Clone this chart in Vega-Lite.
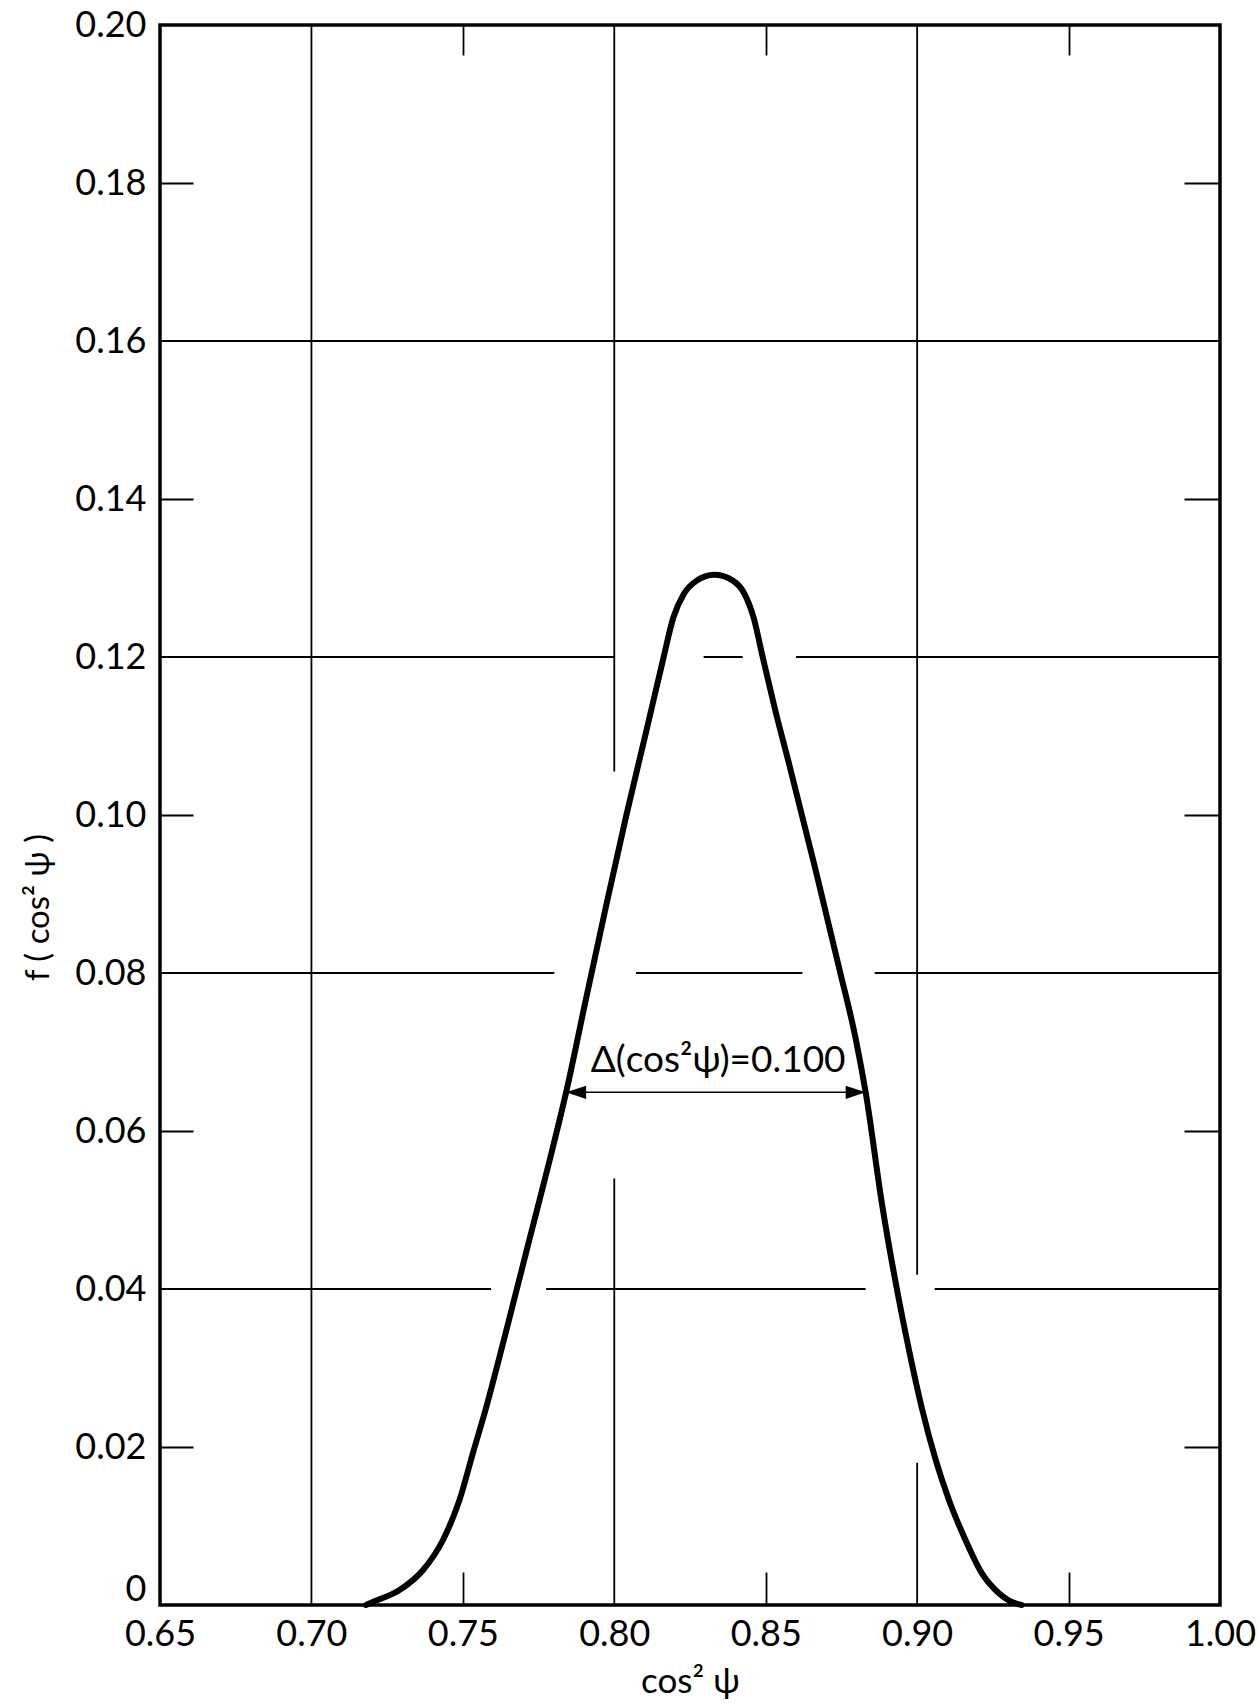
{
  "$schema": "https://vega.github.io/schema/vega-lite/v6.json",
  "width": 1060,
  "height": 1580,
  "autosize": "none",
  "padding": {"left": 160, "top": 25, "right": 38, "bottom": 99},
  "background": "white",
  "config": {
    "view": {"stroke": "black", "strokeWidth": 3.5},
    "font": "Lato",
    "axis": {"labelFont": "Lato", "titleFont": "Lato", "labelColor": "black", "titleColor": "black", "tickColor": "black", "grid": false, "domain": false, "labelFlush": false, "labelOverlap": false}
  },
  "datasets": {
    "curve": [
      {"c": 0.7180, "f": 0.0000},
      {"c": 0.7210, "f": 0.0005},
      {"c": 0.7291, "f": 0.0019},
      {"c": 0.7368, "f": 0.0044},
      {"c": 0.7434, "f": 0.0082},
      {"c": 0.7489, "f": 0.0133},
      {"c": 0.7533, "f": 0.0192},
      {"c": 0.7577, "f": 0.0250},
      {"c": 0.7621, "f": 0.0314},
      {"c": 0.7665, "f": 0.0380},
      {"c": 0.7720, "f": 0.0463},
      {"c": 0.7786, "f": 0.0562},
      {"c": 0.7841, "f": 0.0649},
      {"c": 0.7907, "f": 0.0768},
      {"c": 0.7973, "f": 0.0885},
      {"c": 0.8040, "f": 0.1000},
      {"c": 0.8105, "f": 0.1105},
      {"c": 0.8160, "f": 0.1195},
      {"c": 0.8195, "f": 0.1250},
      {"c": 0.8230, "f": 0.1280},
      {"c": 0.8270, "f": 0.1296},
      {"c": 0.8330, "f": 0.1304},
      {"c": 0.8390, "f": 0.1297},
      {"c": 0.8430, "f": 0.1280},
      {"c": 0.8460, "f": 0.1250},
      {"c": 0.8490, "f": 0.1200},
      {"c": 0.8530, "f": 0.1135},
      {"c": 0.8577, "f": 0.1065},
      {"c": 0.8665, "f": 0.0930},
      {"c": 0.8742, "f": 0.0807},
      {"c": 0.8797, "f": 0.0717},
      {"c": 0.8830, "f": 0.0649},
      {"c": 0.8885, "f": 0.0505},
      {"c": 0.8940, "f": 0.0386},
      {"c": 0.8973, "f": 0.0323},
      {"c": 0.9017, "f": 0.0247},
      {"c": 0.9061, "f": 0.0184},
      {"c": 0.9105, "f": 0.0133},
      {"c": 0.9160, "f": 0.0082},
      {"c": 0.9214, "f": 0.0040},
      {"c": 0.9270, "f": 0.0015},
      {"c": 0.9325, "f": 0.0002},
      {"c": 0.9345, "f": 0.0000}
    ],
    "hgrid": [
      {"y": 0.16, "x": 0.65, "x2": 1.0},
      {"y": 0.12, "x": 0.65, "x2": 0.80},
      {"y": 0.12, "x": 0.8295, "x2": 0.8424},
      {"y": 0.12, "x": 0.86, "x2": 1.0},
      {"y": 0.08, "x": 0.65, "x2": 0.7802},
      {"y": 0.08, "x": 0.8072, "x2": 0.8621},
      {"y": 0.08, "x": 0.886, "x2": 1.0},
      {"y": 0.04, "x": 0.65, "x2": 0.7593},
      {"y": 0.04, "x": 0.7775, "x2": 0.883},
      {"y": 0.04, "x": 0.9058, "x2": 1.0}
    ],
    "vgrid": [
      {"x": 0.70, "y": 0, "y2": 0.2},
      {"x": 0.80, "y": 0.1055, "y2": 0.2},
      {"x": 0.80, "y": 0, "y2": 0.054},
      {"x": 0.90, "y": 0.0418, "y2": 0.2},
      {"x": 0.90, "y": 0, "y2": 0.018}
    ],
    "width": [{"x": 0.7841, "x2": 0.8830, "y": 0.0649}],
    "heads": [{"x": 0.7841, "y": 0.0649, "side": "left"}, {"x": 0.8830, "y": 0.0649, "side": "right"}],
    "note": [{"x": 0.8343, "y": 0.0689, "label": "Δ(cos²ψ)=0.100"}]
  },
  "layer": [
    {
      "data": {"name": "hgrid"},
      "mark": {"type": "rule", "stroke": "black", "strokeWidth": 1.8},
      "encoding": {
        "x": {"field": "x", "type": "quantitative", "scale": {"domain": [0.65, 1.0], "nice": false, "zero": false},
              "axis": {"orient": "bottom", "labels": false, "values": [0.75, 0.85, 0.95], "tickSize": -33, "tickWidth": 1.8, "title": null}},
        "x2": {"field": "x2"},
        "y": {"field": "y", "type": "quantitative", "scale": {"domain": [0, 0.2], "nice": false, "zero": false},
              "axis": {"orient": "left", "labels": false, "values": [0.02, 0.06, 0.1, 0.14, 0.18], "tickSize": -33, "tickWidth": 1.8, "title": null}}
      }
    },
    {
      "data": {"name": "vgrid"},
      "mark": {"type": "rule", "stroke": "black", "strokeWidth": 1.8},
      "encoding": {
        "x": {"field": "x", "type": "quantitative", "scale": {"domain": [0.65, 1.0], "nice": false, "zero": false},
              "axis": {"orient": "top", "labels": false, "values": [0.75, 0.85, 0.95], "tickSize": -30, "tickWidth": 1.8, "title": null}},
        "y": {"field": "y", "type": "quantitative", "scale": {"domain": [0, 0.2], "nice": false, "zero": false},
              "axis": {"orient": "right", "labels": false, "values": [0.02, 0.06, 0.1, 0.14, 0.18], "tickSize": -36, "tickWidth": 1.8, "title": null}},
        "y2": {"field": "y2"}
      }
    },
    {
      "data": {"name": "curve"},
      "mark": {"type": "line", "stroke": "black", "strokeWidth": 6, "strokeCap": "round", "strokeJoin": "round", "interpolate": "monotone"},
      "encoding": {
        "x": {"field": "c", "type": "quantitative", "scale": {"domain": [0.65, 1.0], "nice": false, "zero": false},
              "axis": {"orient": "bottom", "values": [0.65, 0.7, 0.75, 0.8, 0.85, 0.9, 0.95, 1.0], "format": ".2f", "ticks": false,
                       "labelPadding": 12, "labelFontSize": 36, "title": "cos² ψ", "titleFontSize": 35, "titleFontWeight": "normal",
                       "titleY": 76, "titleBaseline": "middle"}},
        "y": {"field": "f", "type": "quantitative", "scale": {"domain": [0, 0.2], "nice": false, "zero": false},
              "axis": {"orient": "left", "values": [0, 0.02, 0.04, 0.06, 0.08, 0.1, 0.12, 0.14, 0.16, 0.18, 0.2],
                       "labelExpr": "datum.value == 0 ? '0' : format(datum.value, '.2f')", "ticks": false,
                       "labelPadding": 14, "labelFontSize": 36,
                       "labelOffset": {"condition": {"test": "datum.value == 0", "value": -16}, "value": 0},
                       "title": "f ( cos² ψ )", "titleFontSize": 33, "titleFontWeight": "normal", "titleAngle": -90,
                       "titleX": -122, "titleY": 882, "titleBaseline": "middle", "titleAlign": "center"}}
      }
    },
    {
      "data": {"name": "width"},
      "mark": {"type": "rule", "stroke": "black", "strokeWidth": 1.6},
      "encoding": {
        "x": {"field": "x", "type": "quantitative", "axis": null},
        "x2": {"field": "x2"},
        "y": {"field": "y", "type": "quantitative", "axis": null}
      }
    },
    {
      "data": {"name": "heads"},
      "mark": {"type": "point", "filled": true, "color": "black", "opacity": 1, "size": 1600},
      "encoding": {
        "x": {"field": "x", "type": "quantitative", "axis": null},
        "y": {"field": "y", "type": "quantitative", "axis": null},
        "shape": {"field": "side", "type": "nominal", "legend": null,
                  "scale": {"domain": ["left", "right"], "range": ["M 0 0 L 1 -0.33 L 1 0.33 Z", "M 0 0 L -1 -0.33 L -1 0.33 Z"]}}
      }
    },
    {
      "data": {"name": "note"},
      "mark": {"type": "text", "font": "Lato", "fontSize": 37, "color": "black", "align": "center", "baseline": "middle"},
      "encoding": {
        "x": {"field": "x", "type": "quantitative", "axis": null},
        "y": {"field": "y", "type": "quantitative", "axis": null},
        "text": {"field": "label"}
      }
    }
  ],
  "resolve": {"axis": {"x": "independent", "y": "independent"}}
}
